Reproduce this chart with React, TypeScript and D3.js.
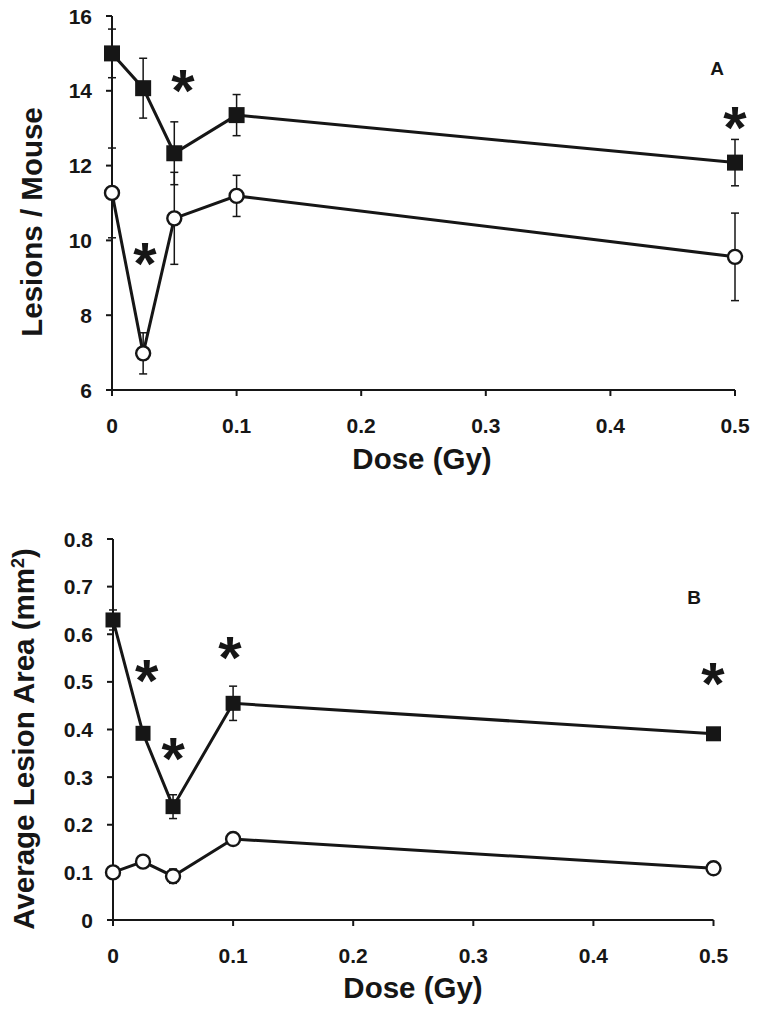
import React from "react";
import * as d3 from "d3";

// ---------- data ----------
const doses = [0, 0.025, 0.05, 0.1, 0.5];
const xTicks = [0, 0.1, 0.2, 0.3, 0.4, 0.5];

// Panel A: Lesions / Mouse
const lesionsSquare = [15.0, 14.07, 12.33, 13.35, 12.08];
const lesionsSquareErr = [0.65, 0.8, 0.84, 0.55, 0.62];
const lesionsCircle = [11.27, 6.98, 10.59, 11.19, 9.56];
const lesionsCircleErr = [1.2, 0.55, 1.23, 0.55, 1.17];
const lesionsTicks = [6, 8, 10, 12, 14, 16];
const lesionsStars = [
  { dose: 0.057, value: 14.33 },
  { dose: 0.0265, value: 9.7 },
  { dose: 0.5, value: 13.35 },
];

// Panel B: Average Lesion Area (mm2)
const areaSquare = [0.63, 0.392, 0.238, 0.455, 0.391];
const areaSquareErr = [0.021, 0.01, 0.025, 0.036, 0.008];
const areaCircle = [0.1, 0.1225, 0.092, 0.17, 0.1086];
const areaCircleErr = [0.008, 0.008, 0.015, 0.012, 0.006];
const areaTicks = [0, 0.1, 0.2, 0.3, 0.4, 0.5, 0.6, 0.7, 0.8];
const areaStars = [
  { dose: 0.028, value: 0.5285 },
  { dose: 0.0502, value: 0.364 },
  { dose: 0.0974, value: 0.5774 },
  { dose: 0.4996, value: 0.5214 },
];

const FONT = "'Liberation Sans', Arial, Helvetica, sans-serif";
const INK = "#161616";

type PanelProps = {
  xRange: [number, number];
  yRange: [number, number];
  yDomain: [number, number];
  yTicks: number[];
  yFmt: (v: number) => string;
  square: number[];
  squareErr: number[];
  circle: number[];
  circleErr: number[];
  stars: { dose: number; value: number }[];
  label: string;
  labelPos: [number, number];
  yTitle: React.ReactNode;
  yTitlePos: [number, number];
  xTitlePos: [number, number];
  sqSize: number;
  circR: number;
};

function Panel(p: PanelProps) {
  const x = d3.scaleLinear().domain([0, 0.5]).range(p.xRange);
  const y = d3.scaleLinear().domain(p.yDomain).range(p.yRange);
  const x0 = p.xRange[0];
  const y0 = p.yRange[0];
  const line = d3
    .line<number>()
    .x((_, i) => x(doses[i]))
    .y((d) => y(d));
  const capW = 4;
  const errBars = (vals: number[], errs: number[], key: string) =>
    vals.map((v, i) => {
      const cx = x(doses[i]);
      const top = y(v + errs[i]);
      const bot = y(v - errs[i]);
      return (
        <g key={key + i} stroke={INK} strokeWidth={1.5}>
          <line x1={cx} x2={cx} y1={top} y2={bot} />
          <line x1={cx - capW} x2={cx + capW} y1={top} y2={top} />
          <line x1={cx - capW} x2={cx + capW} y1={bot} y2={bot} />
        </g>
      );
    });
  const starFs = 60;
  return (
    <g fontFamily={FONT} fill={INK}>
      {/* axes */}
      <line x1={x0} x2={x0} y1={p.yRange[1]} y2={y0 + 6} stroke={INK} strokeWidth={2} />
      <line x1={x0} x2={p.xRange[1]} y1={y0} y2={y0} stroke={INK} strokeWidth={2} />
      {p.yTicks.map((t) => (
        <g key={"yt" + t}>
          <line x1={x0 - 6} x2={x0} y1={y(t)} y2={y(t)} stroke={INK} strokeWidth={2} />
          <text
            x={x0 - 20}
            y={y(t)}
            dy="0.36em"
            textAnchor="end"
            fontSize={21}
            fontWeight="bold"
          >
            {p.yFmt(t)}
          </text>
        </g>
      ))}
      {xTicks.map((t) => (
        <g key={"xt" + t}>
          <line x1={x(t)} x2={x(t)} y1={y0} y2={y0 + 6} stroke={INK} strokeWidth={2} />
          <text
            x={x(t)}
            y={y0 + 43}
            textAnchor="middle"
            fontSize={21}
            fontWeight="bold"
          >
            {t === 0 ? "0" : d3.format(".1f")(t)}
          </text>
        </g>
      ))}
      {/* error bars */}
      {errBars(p.square, p.squareErr, "se")}
      {errBars(p.circle, p.circleErr, "ce")}
      {/* lines */}
      <path d={line(p.square) || ""} fill="none" stroke={INK} strokeWidth={3} />
      <path d={line(p.circle) || ""} fill="none" stroke={INK} strokeWidth={3} />
      {/* markers */}
      {p.square.map((v, i) => (
        <rect
          key={"sq" + i}
          x={x(doses[i]) - p.sqSize / 2}
          y={y(v) - p.sqSize / 2}
          width={p.sqSize}
          height={p.sqSize}
          fill={INK}
        />
      ))}
      {p.circle.map((v, i) => (
        <circle
          key={"ci" + i}
          cx={x(doses[i])}
          cy={y(v)}
          r={p.circR}
          fill="#fff"
          stroke={INK}
          strokeWidth={2.4}
        />
      ))}
      {/* significance asterisks */}
      {p.stars.map((s, i) => (
        <text
          key={"st" + i}
          x={x(s.dose)}
          y={y(s.value) + starFs * 0.545}
          textAnchor="middle"
          fontSize={starFs}
          fontWeight="bold"
        >
          *
        </text>
      ))}
      {/* panel label */}
      <text
        x={p.labelPos[0]}
        y={p.labelPos[1]}
        textAnchor="middle"
        dy="0.36em"
        fontSize={19}
        fontWeight="bold"
      >
        {p.label}
      </text>
      {/* titles */}
      <text
        x={p.xTitlePos[0]}
        y={p.xTitlePos[1]}
        textAnchor="middle"
        fontSize={29.5}
        fontWeight="bold"
      >
        Dose (Gy)
      </text>
      <text
        transform={`translate(${p.yTitlePos[0]},${p.yTitlePos[1]}) rotate(-90)`}
        textAnchor="middle"
        fontSize={29.5}
        fontWeight="bold"
      >
        {p.yTitle}
      </text>
    </g>
  );
}

export default function App() {
  return (
    <svg
      width={759}
      height={1011}
      viewBox="0 0 759 1011"
      style={{ position: "absolute", left: 0, top: 0, background: "#fff" }}
    >
      <rect width={759} height={1011} fill="#fff" />
      <Panel
        xRange={[112, 735]}
        yRange={[390, 16]}
        yDomain={[6, 16]}
        yTicks={lesionsTicks}
        yFmt={(v) => String(v)}
        square={lesionsSquare}
        squareErr={lesionsSquareErr}
        circle={lesionsCircle}
        circleErr={lesionsCircleErr}
        stars={lesionsStars}
        label="A"
        labelPos={[717, 68]}
        yTitle="Lesions / Mouse"
        yTitlePos={[42, 222]}
        xTitlePos={[422, 469]}
        sqSize={16}
        circR={7}
      />
      <Panel
        xRange={[113, 713.5]}
        yRange={[920, 539]}
        yDomain={[0, 0.8]}
        yTicks={areaTicks}
        yFmt={(v) => (v === 0 ? "0" : d3.format(".1f")(v))}
        square={areaSquare}
        squareErr={areaSquareErr}
        circle={areaCircle}
        circleErr={areaCircleErr}
        stars={areaStars}
        label="B"
        labelPos={[694, 597]}
        yTitle={
          <>
            Average Lesion Area (mm
            <tspan baselineShift="super" fontSize={18}>
              2
            </tspan>
            )
          </>
        }
        yTitlePos={[34, 739]}
        xTitlePos={[413, 998]}
        sqSize={15}
        circR={7}
      />
    </svg>
  );
}
